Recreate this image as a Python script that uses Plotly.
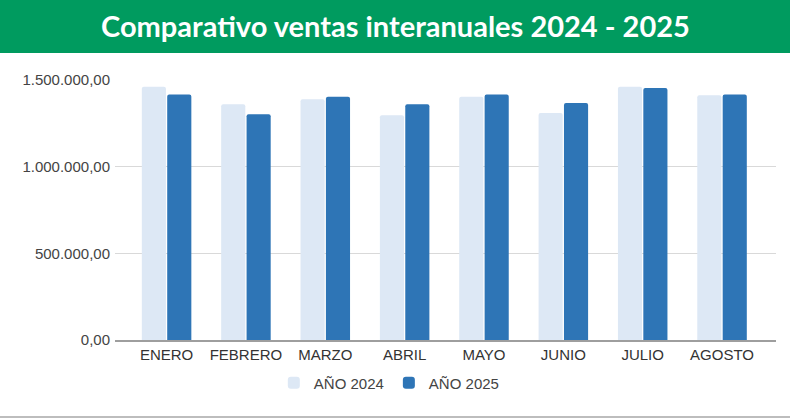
import plotly.graph_objects as go

meses = ["ENERO", "FEBRERO", "MARZO", "ABRIL", "MAYO", "JUNIO", "JULIO", "AGOSTO"]
ventas_2024 = [1461000, 1360000, 1389000, 1296000, 1404000, 1310000, 1461000, 1412000]
ventas_2025 = [1417000, 1302000, 1404000, 1360000, 1417000, 1367000, 1454000, 1417000]
serie_nombres = ["AÑO 2024", "AÑO 2025"]
titulo = "Comparativo ventas interanuales 2024 - 2025"

W, H = 790, 419
L, R, T, B = 115, 14, 80, 79
pw, ph = W - L - R, H - T - B

fig = go.Figure()
fig.add_trace(go.Bar(x=meses, y=ventas_2024, name=serie_nombres[0],
                     marker=dict(color="#DDE8F5", line=dict(width=0))))
fig.add_trace(go.Bar(x=meses, y=ventas_2025, name=serie_nombres[1],
                     marker=dict(color="#2E75B6", line=dict(width=0))))

def py(px):
    return (H - B - px) / ph

def pxx(px):
    return (px - L) / pw

fig.update_layout(
    width=W, height=H,
    margin=dict(l=L, r=R, t=T, b=B),
    paper_bgcolor="white", plot_bgcolor="white",
    barmode="group", bargap=0.36, bargroupgap=0.05,
    barcornerradius=2,
    separators=",.",
    font=dict(family="Liberation Sans, Arial, sans-serif", size=15, color="#444444"),
    xaxis=dict(range=[-0.65, 7.68], showgrid=False, showline=True, linecolor="#9E9E9E",
               linewidth=1.5, ticks="", tickfont=dict(size=15, color="#333333")),
    yaxis=dict(range=[0, 1500000], tickvals=[0, 500000, 1000000, 1500000],
               tickformat=",.2f", showgrid=True, gridcolor="#D9D9D9", gridwidth=1,
               zeroline=False, ticks="", ticklabelstandoff=4,
               tickfont=dict(size=15, color="#444444")),
    showlegend=True,
    legend=dict(orientation="h", x=0.415, xanchor="center", y=py(383), yanchor="middle",
                font=dict(size=15, color="#444444"), itemwidth=30,
                traceorder="normal"),
    shapes=[
        dict(type="rect", xref="paper", yref="paper",
             x0=pxx(0), x1=pxx(W), y0=py(53), y1=py(0),
             fillcolor="#009B5F", line=dict(width=0), layer="below"),
        dict(type="line", xref="paper", yref="paper",
             x0=pxx(0), x1=pxx(W), y0=py(417), y1=py(417),
             line=dict(color="#BDBDBD", width=2)),
    ],
    annotations=[
        dict(text="<b>" + titulo + "</b>", xref="paper", yref="paper",
             x=pxx(395), y=py(25), xanchor="center", yanchor="middle",
             showarrow=False, font=dict(family="Lato", size=29, color="white")),
    ],
)

fig.write_html("out.html", config={"displayModeBar": False},
               post_script="document.body.style.margin='0';")
